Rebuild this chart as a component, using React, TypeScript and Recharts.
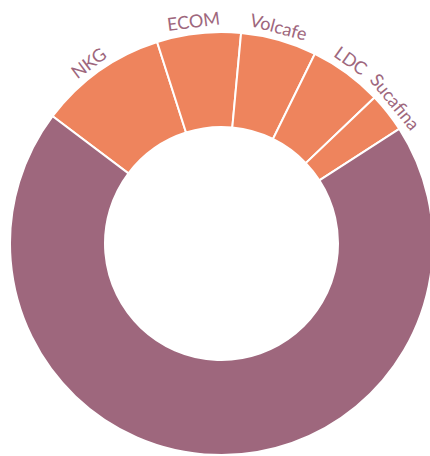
import React from 'react';
import { PieChart, Pie, Cell } from 'recharts';

const traders = ['NKG', 'ECOM', 'Volcafe', 'LDC', 'Sucafina', 'Others'];
const shares = [9.8, 6.4, 5.8, 5.6, 3.0, 69.4];
const labelled = [true, true, true, true, true, false];

const ORANGE = '#ee845d';
const PURPLE = '#9e677d';
const RAD = Math.PI / 180;

const data = traders.map((name, i) => ({ name, value: shares[i], show: labelled[i] }));

const renderLabel = (props: any) => {
  const { cx, cy, midAngle, outerRadius, index } = props;
  if (!data[index].show) return null;
  // labels sit on the tangent, just outside the ring
  const angle = midAngle + 1;
  const r = outerRadius + 13;
  const x = cx + r * Math.cos(-angle * RAD);
  const y = cy + r * Math.sin(-angle * RAD);
  return (
    <text
      x={x}
      y={y}
      fill={PURPLE}
      fontSize={18}
      fontFamily="Lato, sans-serif"
      textAnchor="middle"
      dominantBaseline="central"
      transform={`rotate(${90 - angle}, ${x}, ${y})`}
    >
      {data[index].name}
    </text>
  );
};

const App: React.FC = () => {
  return (
    <div style={{ position: 'absolute', left: 0, top: 0, width: 430, height: 456, background: '#fff' }}>
      <PieChart width={430} height={456} margin={{ top: 0, right: 0, bottom: 0, left: 0 }}>
        <Pie
          data={data}
          dataKey="value"
          nameKey="name"
          cx={221.5}
          cy={243.5}
          innerRadius={116.5}
          outerRadius={211.5}
          startAngle={143}
          endAngle={-217}
          stroke="#fff"
          strokeWidth={2}
          label={renderLabel}
          labelLine={false}
          isAnimationActive={false}
        >
          {data.map((d, i) => (
            <Cell key={d.name} fill={d.show ? ORANGE : PURPLE} />
          ))}
        </Pie>
      </PieChart>
    </div>
  );
};

export default App;
